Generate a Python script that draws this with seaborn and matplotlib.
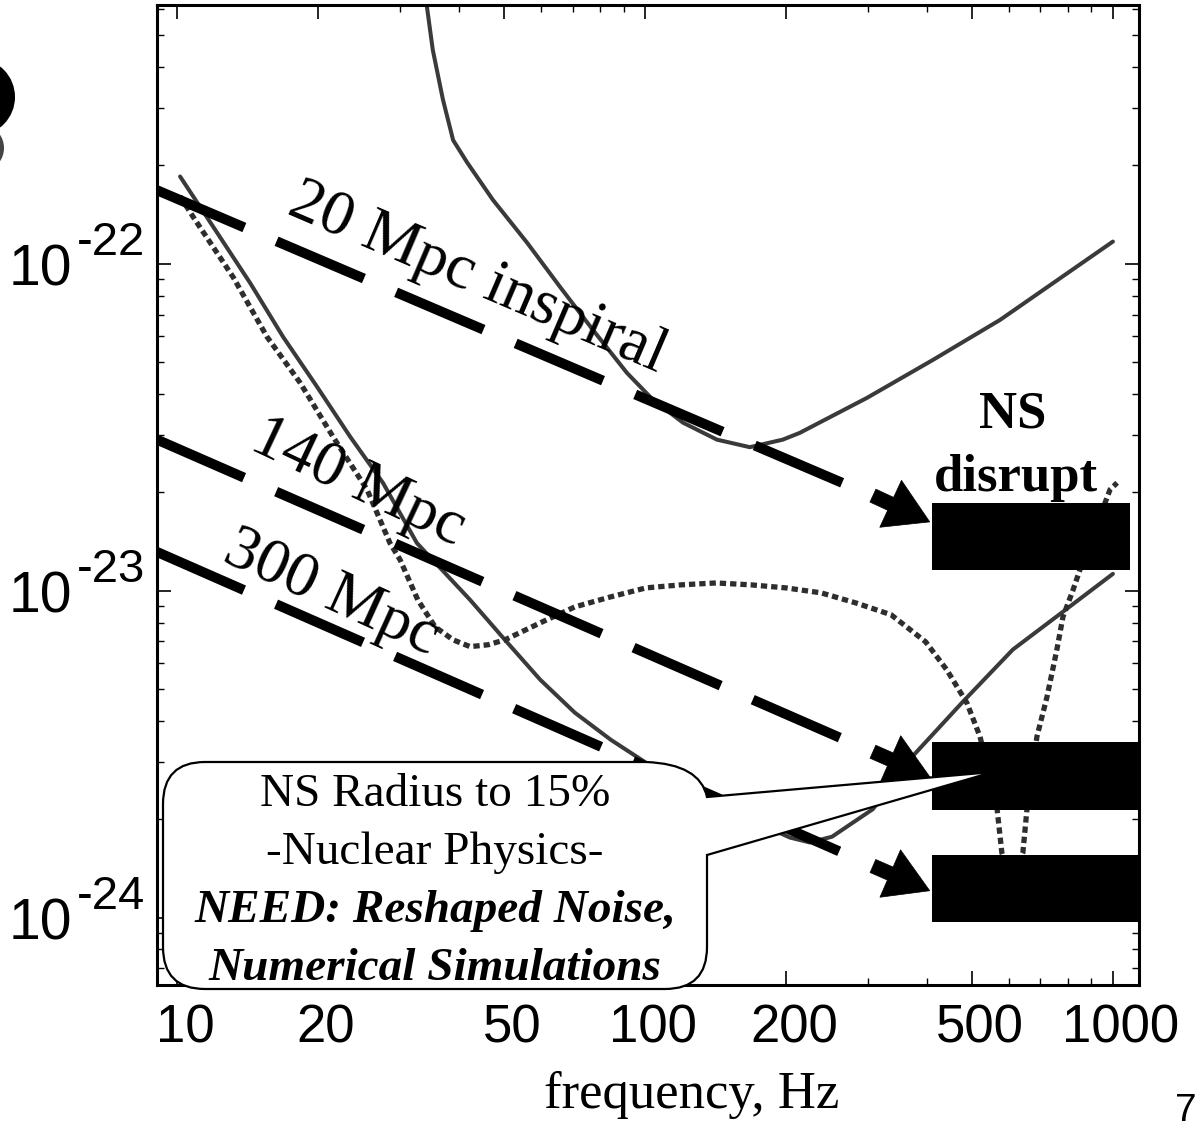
import matplotlib
matplotlib.use("Agg")
import matplotlib.pyplot as plt
import seaborn as sns
import pandas as pd
from matplotlib.path import Path
from matplotlib.patches import PathPatch, Ellipse
from matplotlib.transforms import ScaledTranslation
from matplotlib.ticker import FixedLocator, FixedFormatter, LogLocator, NullFormatter

# ---------------- data ----------------
freq_initial = [34.0, 35.2, 37.0, 38.9, 41.7, 47.3, 56.0, 65.8, 77.4, 91.5, 104.0, 120.5,
                142.5, 167.5, 197.0, 214.0, 298.0, 412.0, 574.0, 1000.0]
strain_initial = [6.5e-22, 4.51e-22, 3.18e-22, 2.39e-22, 2.04e-22, 1.57e-22, 1.16e-22, 8.51e-23,
                  6.28e-23, 4.64e-23, 3.84e-23, 3.27e-23, 2.90e-23, 2.75e-23, 2.90e-23, 3.04e-23,
                  3.89e-23, 5.08e-23, 6.74e-23, 1.17e-22]

freq_advanced = [10.15, 12.18, 14.32, 16.85, 19.91, 23.44, 27.54, 32.55, 42.3, 50.2, 59.7, 70.8,
                 84.6, 100.5, 131.0, 167.5, 204.0, 225.0, 251.0, 307.0, 374.0, 478.0, 611.0, 782.0, 1000.0]
strain_advanced = [1.85e-22, 1.245e-22, 8.75e-23, 5.98e-23, 4.21e-23, 2.96e-23, 2.14e-23, 1.40e-23,
                   9.38e-24, 7.08e-24, 5.35e-24, 4.24e-24, 3.50e-24, 2.98e-24, 2.38e-24, 2.00e-24,
                   1.76e-24, 1.70e-24, 1.77e-24, 2.15e-24, 3.13e-24, 4.58e-24, 6.61e-24, 8.63e-24, 1.127e-23]

freq_reshaped = [10.15, 10.82, 13.17, 15.57, 18.32, 21.54, 25.47, 28.51, 29.96, 32.7, 35.6, 38.9,
                 42.3, 46.2, 50.2, 59.7, 70.8, 84.6, 100.5, 119.4, 141.9, 168.4, 200.0, 237.8,
                 282.5, 335.7, 398.0, 441.6, 487.5, 520.0, 565.0, 579.0, 608.0, 642.0, 655.0,
                 688.0, 723.0, 759.0, 782.0, 822.0, 850.0, 986.0, 1021.0]
strain_reshaped = [1.61e-22, 1.393e-22, 9.12e-23, 5.98e-23, 4.33e-23, 2.96e-23, 2.04e-23, 1.40e-23,
                   1.245e-23, 9.38e-24, 7.76e-24, 7.08e-24, 6.75e-24, 6.84e-24, 7.08e-24, 7.98e-24,
                   8.93e-24, 9.59e-24, 1.021e-23, 1.043e-23, 1.057e-23, 1.043e-23, 1.021e-23,
                   9.86e-24, 9.18e-24, 8.45e-24, 6.98e-24, 5.73e-24, 4.54e-24, 3.58e-24, 2.18e-24,
                   1.58e-24, 1.31e-24, 1.58e-24, 2.14e-24, 3.58e-24, 4.74e-24, 6.61e-24, 8.32e-24,
                   1.007e-23, 1.159e-23, 2.04e-23, 2.14e-23]

inspiral_labels = ["20 Mpc inspiral", "140 Mpc", "300 Mpc"]
inspiral_freq = [9.06, 270.0]
inspiral_strain_start = [1.68e-22, 2.90e-23, 1.315e-23]
inspiral_strain_end = [2.11e-23, 3.48e-24, 1.56e-24]
arrow_freq = [307.0, 406.0]
arrow_strain_tail = [1.955e-23, 3.22e-24, 1.44e-24]
arrow_strain_tip = [1.625e-23, 2.70e-24, 1.21e-24]

box_freq_low = [410.0, 410.0, 410.0]
box_freq_high = [1087.0, 1137.0, 1137.0]
box_strain_low = [1.159e-23, 2.14e-24, 9.72e-25]
box_strain_high = [1.858e-23, 3.45e-24, 1.56e-24]

x_ticks = [10, 20, 50, 100, 200, 500, 1000]
x_tick_labels = ["10", "20", "50", "100", "200", "500", "1000"]
y_ticks = [1e-22, 1e-23, 1e-24]
y_tick_exponents = ["-22", "-23", "-24"]
x_limits = (9.06, 1137.0)
y_limits = (6.23e-25, 6.19e-22)

callout_lines = ["NS Radius to 15%", "-Nuclear Physics-",
                 "NEED: Reshaped Noise,", "Numerical Simulations"]

# ---------------- style ----------------
sns.set_theme(style="ticks")
plt.rcParams["font.family"] = ["Liberation Sans", "DejaVu Sans"]
plt.rcParams["axes.linewidth"] = 2.2
SERIF = ["Liberation Serif", "DejaVu Serif"]

W, H = 1203, 1132
fig = plt.figure(figsize=(W / 100, H / 100), dpi=100)
fig.patch.set_facecolor("white")
ax = fig.add_axes([157 / W, 1 - 985 / H, (1139 - 157) / W, (985 - 5) / H])
ax.set_facecolor("white")
ax.set_xscale("log")
ax.set_yscale("log")


def P(px, py):
    return (px / W, 1 - py / H)


curve_color = "#3a3a3a"
sns.lineplot(data=pd.DataFrame({"f": freq_initial, "h": strain_initial}), x="f", y="h",
             ax=ax, color=curve_color, lw=2.9, sort=False, estimator=None, zorder=2)
sns.lineplot(data=pd.DataFrame({"f": freq_advanced, "h": strain_advanced}), x="f", y="h",
             ax=ax, color=curve_color, lw=2.9, sort=False, estimator=None, zorder=2)
sns.lineplot(data=pd.DataFrame({"f": freq_reshaped, "h": strain_reshaped}), x="f", y="h",
             ax=ax, color="#2e2e2e", lw=3.8, linestyle=(0, (1.2, 0.75)), sort=False,
             estimator=None, zorder=2)

for i in range(3):
    sns.lineplot(x=inspiral_freq, y=[inspiral_strain_start[i], inspiral_strain_end[i]], ax=ax,
                 color="black", lw=7.2, linestyle=(0, (9.5, 3.5)), sort=False, estimator=None,
                 zorder=3)
    ax.annotate("", xy=(arrow_freq[1], arrow_strain_tip[i]),
                xytext=(arrow_freq[0], arrow_strain_tail[i]),
                arrowprops=dict(arrowstyle="simple,head_length=1.0,head_width=1.2,tail_width=0.33",
                                fc="black", ec="black", lw=0.5, shrinkA=0, shrinkB=0,
                                mutation_scale=31), zorder=4)
    ax.fill_between([box_freq_low[i], box_freq_high[i]], box_strain_low[i], box_strain_high[i],
                    color="black", lw=0, zorder=5)

ax.set_xlim(*x_limits)
ax.set_ylim(*y_limits)
ax.set_xlabel("")
ax.set_ylabel("")

ax.xaxis.set_major_locator(FixedLocator(x_ticks))
ax.xaxis.set_major_formatter(FixedFormatter(x_tick_labels))
ax.xaxis.set_minor_locator(LogLocator(base=10, subs=range(2, 10), numticks=20))
ax.xaxis.set_minor_formatter(NullFormatter())
ax.yaxis.set_major_locator(FixedLocator(y_ticks))
ax.yaxis.set_minor_locator(LogLocator(base=10, subs=range(2, 10), numticks=20))
ax.yaxis.set_minor_formatter(NullFormatter())
ax.tick_params(axis="both", which="major", direction="in", length=10, width=1.2,
               top=True, right=True, color="black")
ax.tick_params(axis="both", which="minor", direction="in", length=5, width=1.0,
               top=True, right=True, color="black")
ax.tick_params(axis="x", which="major", labelsize=38, pad=13, labelcolor="black")
ax.tick_params(axis="y", labelleft=False)
shift = ScaledTranslation(8 / 100, 0, fig.dpi_scale_trans)
for lbl in ax.get_xticklabels():
    lbl.set_transform(lbl.get_transform() + shift)
for s in ax.spines.values():
    s.set_color("black")
    s.set_linewidth(2.2)

# y tick labels 10^-n drawn as base + large superscript
for val, exp in zip(y_ticks, y_tick_exponents):
    ax.annotate("10", xy=(0, val), xycoords=("axes fraction", "data"), xytext=(-85, -7),
                textcoords="offset pixels", ha="right", va="center", fontsize=41,
                color="black", annotation_clip=False)
    ax.annotate(exp, xy=(0, val), xycoords=("axes fraction", "data"), xytext=(-80, 21),
                textcoords="offset pixels", ha="left", va="center", fontsize=34,
                color="black", annotation_clip=False)

# inspiral labels
label_pos = [(477, 279, -23.2), (358, 483, -25.2), (331, 594, -24.5)]
for txt, (px, py, rot) in zip(inspiral_labels, label_pos):
    fig.text(*P(px, py), txt, family=SERIF, fontsize=46, rotation=rot,
             rotation_mode="anchor", ha="center", va="center", color="black", zorder=6)

fig.text(*P(1013, 428), "NS", family=SERIF, fontsize=38, fontweight="bold",
         ha="center", va="baseline", color="black")
fig.text(*P(1016, 491), "disrupt", family=SERIF, fontsize=38, fontweight="bold",
         ha="center", va="baseline", color="black")

# callout balloon
Lx, Rx, Ty, By = 163, 707, 762, 989
r = 42
verts = [P(Lx + r, Ty), P(646, Ty), P(700, Ty + 2), P(Rx, 797), P(993, 772), P(Rx, 855),
         P(Rx, By - r), P(Rx, By), P(Rx - r, By), P(Lx + r, By), P(Lx, By), P(Lx, By - r),
         P(Lx, Ty + r), P(Lx, Ty), P(Lx + r, Ty), P(Lx + r, Ty)]
codes = [Path.MOVETO, Path.LINETO, Path.CURVE3, Path.CURVE3, Path.LINETO, Path.LINETO,
         Path.LINETO, Path.CURVE3, Path.CURVE3, Path.LINETO, Path.CURVE3, Path.CURVE3,
         Path.LINETO, Path.CURVE3, Path.CURVE3, Path.CLOSEPOLY]
fig.add_artist(PathPatch(Path(verts, codes), transform=fig.transFigure, facecolor="white",
                         edgecolor="black", lw=1.6, zorder=7))

baselines = [806, 864, 922, 980]
styles = [("normal", "normal"), ("normal", "normal"), ("bold", "italic"), ("bold", "italic")]
for txt, by, (wt, st) in zip(callout_lines, baselines, styles):
    fig.text(*P(435, by), txt, family=SERIF, fontsize=34, fontweight=wt, fontstyle=st,
             ha="center", va="baseline", color="black", zorder=8)

fig.text(*P(692, 1108), "frequency, Hz", family=SERIF, fontsize=38, ha="center",
         va="baseline", color="black")
fig.text(*P(1186, 1121), "7", fontsize=28, ha="center", va="baseline", color="black")

# dark fragment at the top-left page edge (scan residue)
fig.add_artist(Ellipse(P(-22, 97), 74 / W, 76 / H, transform=fig.transFigure,
                       facecolor="black", edgecolor="none", zorder=3))
fig.add_artist(Ellipse(P(-12, 148), 32 / W, 40 / H, transform=fig.transFigure,
                       facecolor="#444444", edgecolor="none", zorder=3))

fig.savefig("out.png", dpi=100, facecolor="white")
